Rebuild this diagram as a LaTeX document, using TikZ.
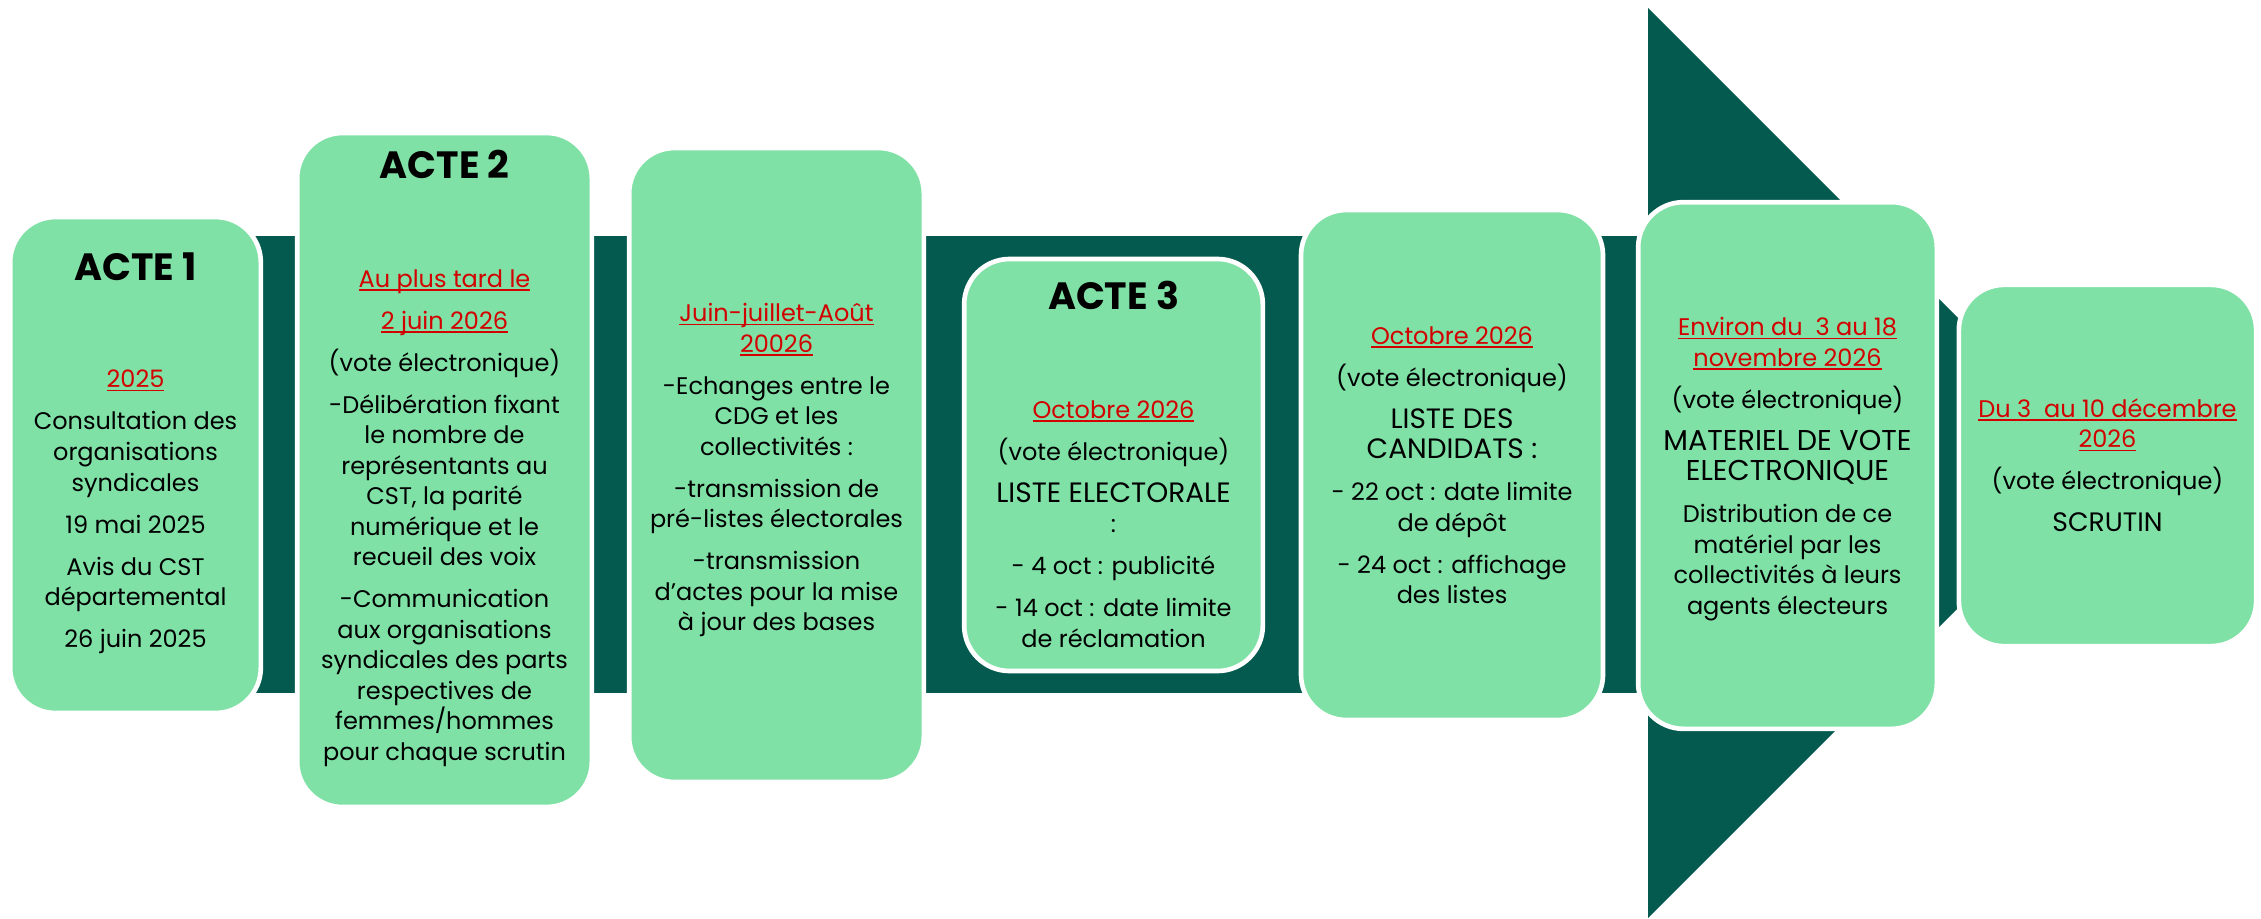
\documentclass[tikz,border=0pt]{standalone}
\usepackage{fontspec}
\setmainfont{Poppins}
\definecolor{mint}{HTML}{80E1A6}
\definecolor{pine}{HTML}{045A4F}
\definecolor{datered}{HTML}{D20000}
\newsavebox{\whenbox}
\newcommand{\when}[1]{\textcolor{datered}{\sbox{\whenbox}{#1}\rlap{\rule[-2.6pt]{\wd\whenbox}{1pt}}\usebox{\whenbox}}}
\newcommand{\gap}{\\[8.6pt]}
\newcommand{\wide}[2][21]{{\fontsize{#1}{22.9}\selectfont #2}}

\begin{document}
\begin{tikzpicture}[x=0.75pt,y=-0.75pt]
\tikzstyle{box}=[draw=white, line width=3.5pt, fill=mint, rounded corners=34pt, inner sep=0pt]
\tikzstyle{txt}=[align=center, inner sep=0pt, anchor=north, font=\fontsize{18}{22.9}\selectfont]
\tikzstyle{ttl}=[inner sep=0pt, anchor=base, font=\fontsize{28.5}{32}\selectfont\bfseries]
\useasboundingbox (0,0) rectangle (2261,918);
\fill[white] (0,0) rectangle (2261,918);
% the big arrow behind the steps
\fill[pine] (100,236) rectangle (1648,693);
\fill[pine] (1648,8) -- (2103,463) -- (1648,918) -- cycle;
% steps
\node[box, minimum width=188pt,   minimum height=372pt]   (acte1)  at (135.5,465)  {};
\node[box, minimum width=221pt,   minimum height=505.5pt] (acte2)  at (444.5,470)  {};
\node[box, minimum width=221pt,   minimum height=475.5pt] (ete)    at (776.5,465)  {};
\node[box, minimum width=224pt,   minimum height=309pt]   (acte3)  at (1113.5,465) {};
\node[box, minimum width=226.5pt, minimum height=382.5pt] (cand)   at (1452,465)   {};
\node[box, minimum width=224pt,   minimum height=395pt]   (materiel) at (1787.5,465.5) {};
\node[box, minimum width=223pt,   minimum height=271pt]   (scrutin)  at (2107.5,465.5) {};
% titles
\node[ttl] (t1) at (135.5,280)  {ACTE 1};
\node[ttl] (t2) at (444.5,178)  {ACTE 2};
\node[ttl] (t3) at (1113.5,309) {ACTE 3};
% texts
\node[txt] (x1) at (135.5,370) {\when{2025}\gap
  Consultation des\\organisations\\syndicales\gap
  19 mai 2025\gap
  Avis du CST\\départemental\gap
  26 juin 2025};
\node[txt] (x2) at (444.5,269) {\when{Au plus tard le}\gap
  \when{2 juin 2026}\gap
  (vote électronique)\gap
  -Délibération fixant\\le nombre de\\représentants au\\CST, la parité\\numérique et le\\recueil des voix\gap
  -Communication\\aux organisations\\syndicales des parts\\respectives de\\femmes/hommes\\pour chaque scrutin};
\node[txt] (x3) at (776.5,303) {\when{Juin-juillet-Août}\\\when{20026}\gap
  -Echanges entre le\\CDG et les\\collectivités :\gap
  -transmission de\\pré-listes électorales\gap
  -transmission\\d'actes pour la mise\\à jour des bases};
\node[txt] (x4) at (1113.5,400) {\when{Octobre 2026}\gap
  (vote électronique)\gap
  \wide{LISTE ELECTORALE}\\:\gap
  - 4 oct : publicité\gap
  - 14 oct : date limite\\de réclamation};
\node[txt] (x5) at (1452,326) {\when{Octobre 2026}\gap
  (vote électronique)\gap
  \wide{LISTE DES}\\\wide{CANDIDATS :}\gap
  - 22 oct : date limite\\de dépôt\gap
  - 24 oct : affichage\\des listes};
\node[txt] (x6) at (1787.5,317) {\when{Environ du\ \ 3 au 18}\\\when{novembre 2026}\gap
  (vote électronique)\gap
  \wide[21.5]{MATERIEL DE VOTE}\\\wide[21.5]{ELECTRONIQUE}\gap
  Distribution de ce\\matériel par les\\collectivités à leurs\\agents électeurs};
\node[txt] (x7) at (2107.5,398) {\when{Du 3\ \ au 10 décembre}\\\when{2026}\gap
  (vote électronique)\gap
  \wide[20]{SCRUTIN}};
\end{tikzpicture}
\end{document}
